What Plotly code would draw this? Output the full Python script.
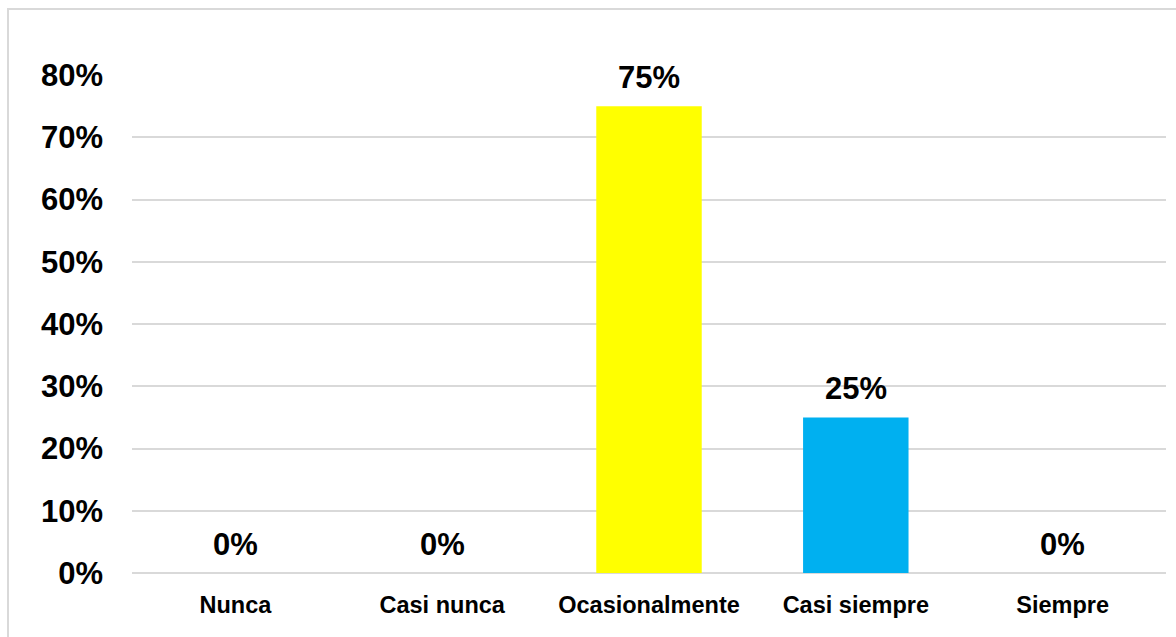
import plotly.graph_objects as go

categories = ["Nunca", "Casi nunca", "Ocasionalmente", "Casi siempre", "Siempre"]
values = [0.0, 0.0, 0.75, 0.25, 0.0]
bar_colors = ["#FFFF00", "#FFFF00", "#FFFF00", "#00B0F0", "#00B0F0"]
y_ticks = [0, 0.1, 0.2, 0.3, 0.4, 0.5, 0.6, 0.7, 0.8]
y_tick_labels = ["0%", "10%", "20%", "30%", "40%", "50%", "60%", "70%", "80%"]
value_labels = ["0%", "0%", "75%", "25%", "0%"]

FONT = "Liberation Sans, Arial, sans-serif"

fig = go.Figure()
fig.add_trace(go.Bar(
    x=categories, y=values,
    marker=dict(color=bar_colors, line=dict(width=0)),
    hoverinfo="skip",
))

for c, v, t in zip(categories, values, value_labels):
    fig.add_annotation(
        x=c, y=v, text=t, showarrow=False, yanchor="bottom",
        yshift=9, font=dict(family=FONT, size=31, color="#000000", weight="bold"),
    )

# outer chart border (only top and left visible in the window)
fig.add_shape(type="rect", xref="paper", yref="paper",
              x0=-0.1199, x1=1.05, y0=-0.2, y1=1.1325,
              line=dict(color="#D9D9D9", width=2), fillcolor="rgba(0,0,0,0)", layer="below")

fig.update_layout(
    width=1176, height=637,
    margin=dict(l=132, r=10, t=75, b=64, pad=0),
    paper_bgcolor="white", plot_bgcolor="white",
    showlegend=False,
    bargap=0.49,
    font=dict(family=FONT, color="#000000"),
)
fig.update_xaxes(
    showgrid=False, showline=False, zeroline=False,
    tickfont=dict(family=FONT, size=23.5, color="#000000", weight="bold"),
    ticks="", ticklabelstandoff=15,
)
fig.update_yaxes(
    range=[0, 0.8], tickvals=y_ticks, ticktext=y_tick_labels,
    showgrid=True, gridcolor="#D9D9D9", gridwidth=2,
    zeroline=True, zerolinecolor="#D9D9D9", zerolinewidth=2,
    showline=False, ticks="",
    tickfont=dict(family=FONT, size=31, color="#000000", weight="bold"),
    ticklabelstandoff=28,
)

fig.write_html("out.html")
